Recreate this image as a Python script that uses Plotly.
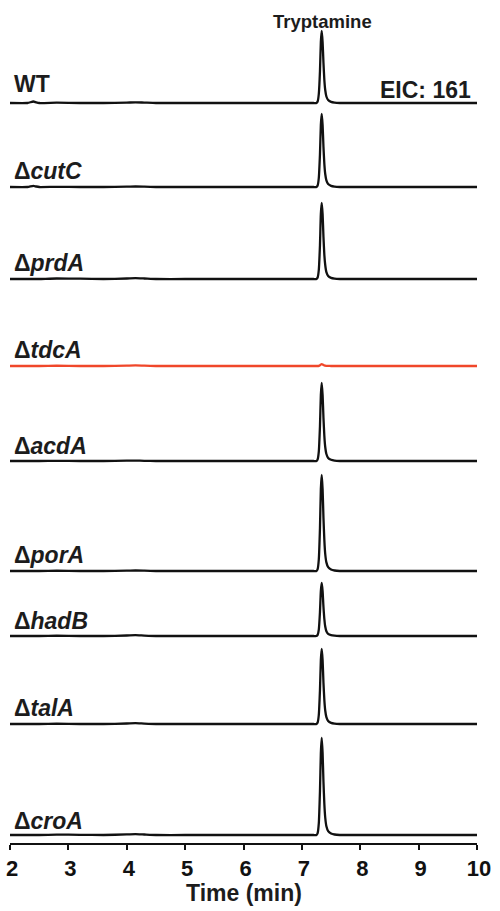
import plotly.graph_objects as go

# ---------------- data ----------------
time_min = [2.0, 2.3, 2.4, 2.45, 2.5, 2.8, 3.2, 3.6, 4.0, 4.15, 4.3, 4.5, 5.0, 5.5, 6.0, 6.5, 7.0, 7.2,
            7.25, 7.27, 7.29, 7.31, 7.325, 7.34, 7.355, 7.37, 7.385, 7.40, 7.42, 7.45, 7.50, 7.56, 7.65,
            7.8, 8.2, 8.6, 9.0, 9.5, 10.0]

strains = ["WT", "ΔcutC", "ΔprdA", "ΔtdcA", "ΔacdA", "ΔporA", "ΔhadB", "ΔtalA", "ΔcroA"]

int_WT = [0, 0, 1.5, 0.6, 0, 0.3, 0, 0, 0.4, 0.7, 0.4, 0, 0, 0, 0, 0, 0, 0,
          0, 1.5, 9, 32, 61, 72, 61, 40, 23, 13, 6.5, 3, 1.1, 0.4, 0,
          0, 0, 0, 0, 0, 0]
int_cutC = [0, 0, 1.2, 0.5, 0, 0.2, 0, 0, 0.3, 0.5, 0.3, 0, 0, 0, 0, 0, 0, 0,
            0, 1.5, 9, 33, 62, 73, 62, 40, 23, 13, 6.6, 2.9, 1.1, 0.4, 0,
            0, 0, 0, 0, 0, 0]
int_prdA = [0, 0, 0, 0, 0, 0.5, 0.3, 0, 0.5, 0.8, 0.5, 0, 0, 0, 0, 0, 0, 0,
            0, 1.5, 9, 34, 65, 76, 65, 42, 24, 14, 6.8, 3, 1.1, 0.4, 0,
            0, 0, 0, 0, 0, 0]
int_tdcA = [0, 0, 0, 0, 0, 0.3, 0, 0, 0.4, 0.6, 0.3, 0, 0, 0, 0, 0, 0, 0,
            0, 0, 0.2, 0.8, 1.5, 1.8, 1.5, 1.0, 0.6, 0.3, 0.2, 0.1, 0, 0, 0,
            0, 0, 0, 0, 0, 0]
int_acdA = [0, 0, 0, 0, 0, 0.2, 0, 0, 0.3, 0.4, 0.2, 0, 0, 0, 0, 0, 0, 0,
            0, 1.6, 9.4, 35, 66, 78, 66, 43, 25, 14, 7, 3.1, 1.2, 0.4, 0,
            0, 0, 0, 0, 0, 0]
int_porA = [0, 0, 0, 0, 0, 0.3, 0, 0, 0.3, 0.5, 0.3, 0, 0, 0, 0, 0, 0, 0,
            0, 1.9, 11.5, 43, 82, 96, 82, 53, 31, 17, 8.6, 3.8, 1.4, 0.5, 0,
            0, 0, 0, 0, 0, 0]
int_hadB = [0, 0, 0, 0, 0, 0.3, 0, 0, 0.5, 0.8, 0.4, 0, 0, 0, 0, 0, 0, 0,
            0, 1.1, 6.4, 24, 45, 53, 45, 29, 17, 9.5, 4.8, 2.1, 0.8, 0.3, 0,
            0, 0, 0, 0, 0, 0]
int_talA = [0, 0, 0, 0, 0, 0.3, 0, 0, 0.5, 0.8, 0.4, 0, 0, 0, 0, 0, 0, 0,
            0, 1.5, 9, 34, 64, 75, 64, 41, 24, 13.5, 6.8, 3, 1.1, 0.4, 0,
            0, 0, 0, 0, 0, 0]
int_croA = [0, 0, 0, 0, 0, 0.4, 0.2, 0, 0.6, 0.9, 0.5, 0, 0, 0, 0, 0, 0, 0,
            0, 1.9, 11.6, 44, 82, 97, 82, 53, 31, 17.5, 8.7, 3.9, 1.5, 0.5, 0,
            0, 0, 0, 0, 0, 0]

intensities = [int_WT, int_cutC, int_prdA, int_tdcA, int_acdA, int_porA, int_hadB, int_talA, int_croA]

x_ticks = [2, 3, 4, 5, 6, 7, 8, 9, 10]

# ---------------- layout / style ----------------
stack_offsets = [740, 656, 564, 477, 382, 272, 207, 119, 8]
label_lift = [19, 16, 16, 16, 15, 16, 15, 16, 14]
line_colors = ["#111111", "#111111", "#111111", "#f0472a", "#111111",
               "#111111", "#111111", "#111111", "#111111"]
FONT = "Liberation Sans, Arial, sans-serif"
TXT = "#1c1c1c"

fig = go.Figure()
for name, vals, off, col in zip(strains, intensities, stack_offsets, line_colors):
    fig.add_trace(go.Scatter(
        x=time_min, y=[v + off for v in vals], mode="lines", name=name,
        line=dict(color=col, width=2.3, shape="spline", smoothing=0.5),
        hoverinfo="skip", showlegend=False))

annotations = []
for name, off, lift in zip(strains, stack_offsets, label_lift):
    if name.startswith("Δ"):
        txt = "<b>Δ<i>" + name[1:] + "</i></b>"
    else:
        txt = "<b>" + name + "</b>"
    annotations.append(dict(x=2.04, y=off + lift, xref="x", yref="y", text=txt, showarrow=False,
                            xanchor="left", yanchor="middle",
                            font=dict(family=FONT, size=23, color=TXT)))
annotations.append(dict(x=9.93, y=stack_offsets[0] + 13, xref="x", yref="y", text="<b>EIC: 161</b>",
                        showarrow=False, xanchor="right", yanchor="middle",
                        font=dict(family=FONT, size=23, color=TXT)))
annotations.append(dict(x=7.36, y=1.0, xref="x", yref="paper", text="<b>Tryptamine</b>",
                        showarrow=False, xanchor="center", yanchor="middle", yshift=4,
                        font=dict(family=FONT, size=18.5, color=TXT)))
annotations.append(dict(x=6.0, y=0.0, xref="x", yref="paper", text="<b>Time (min)</b>",
                        showarrow=False, xanchor="center", yanchor="middle", yshift=-50,
                        font=dict(family=FONT, size=23, color=TXT)))

fig.update_layout(
    width=500, height=911,
    margin=dict(l=10, r=23, t=25, b=68),
    paper_bgcolor="white", plot_bgcolor="white",
    annotations=annotations,
    xaxis=dict(range=[2, 10], tickvals=x_ticks, ticktext=["<b>%d</b>" % t for t in x_ticks],
               showline=True, linecolor="#111111", linewidth=2, ticks="outside",
               ticklen=5, tickwidth=2, tickcolor="#111111", showgrid=False, zeroline=False,
               automargin=False, ticklabeloverflow="allow", ticklabelshift=2,
               tickfont=dict(family=FONT, size=22, color="#111111")),
    yaxis=dict(range=[0, 818], visible=False, showgrid=False, zeroline=False, automargin=False),
)

fig.write_html("out.html", config={"displayModeBar": False},
               post_script="document.body.style.margin='0';document.body.style.overflow='hidden';")
